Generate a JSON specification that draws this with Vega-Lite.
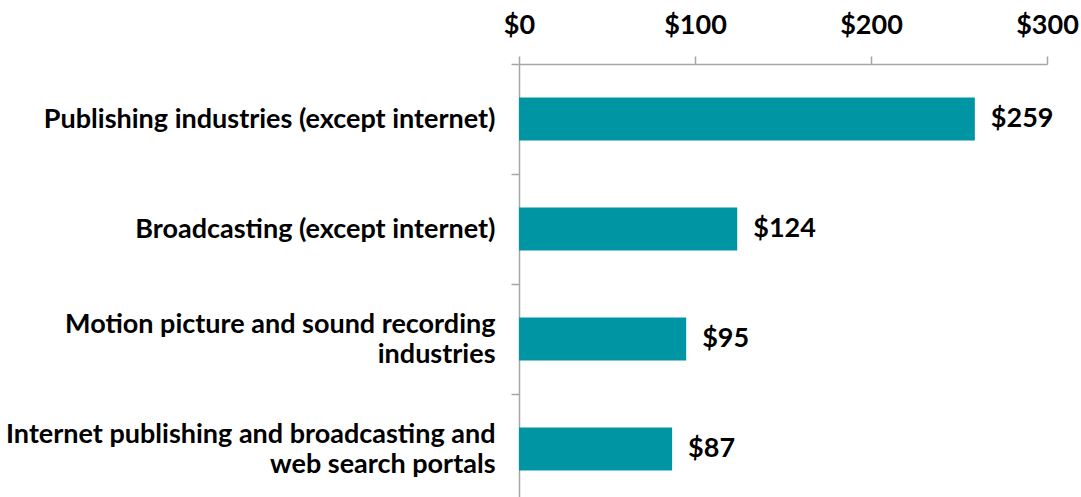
{
  "$schema": "https://vega.github.io/schema/vega-lite/v6.json",
  "autosize": "none",
  "width": 528,
  "height": 440,
  "padding": {"left": 519, "top": 64, "right": 34, "bottom": 0},
  "background": "white",
  "config": {"view": {"stroke": null}, "font": "Lato"},
  "data": {"values": [
    {"industry": "Publishing industries (except internet)", "value": 259},
    {"industry": "Broadcasting (except internet)", "value": 124},
    {"industry": "Motion picture and sound recording industries", "value": 95},
    {"industry": "Internet publishing and broadcasting and web search portals", "value": 87}
  ]},
  "encoding": {
    "y": {
      "field": "industry", "type": "nominal", "sort": null,
      "scale": {"paddingInner": 0, "paddingOuter": 0},
      "axis": {
        "title": null, "orient": "left", "tickBand": "extent",
        "domainColor": "#A6A6A6", "tickColor": "#A6A6A6", "tickSize": 8, "domainWidth": 1.5, "tickWidth": 1.5,
        "labelFont": "Lato", "labelFontWeight": "bold", "labelFontSize": 27, "labelColor": "#000000",
        "labelPadding": 16, "labelLimit": 700, "labelLineHeight": 30,
        "labelBaseline": {"condition": {"test": "length('' + datum.value) > 42", "value": "line-bottom"}, "value": "middle"},
        "labelExpr": "datum.label == 'Motion picture and sound recording industries' ? ['Motion picture and sound recording', 'industries'] : datum.label == 'Internet publishing and broadcasting and web search portals' ? ['Internet publishing and broadcasting and', 'web search portals'] : datum.label"
      }
    },
    "x": {
      "field": "value", "type": "quantitative",
      "scale": {"domain": [0, 300], "nice": false},
      "axis": {
        "title": null, "orient": "top", "values": [0, 100, 200, 300], "grid": false,
        "domainColor": "#A6A6A6", "tickColor": "#A6A6A6", "tickSize": 8, "domainWidth": 1.5, "tickWidth": 1.5,
        "labelFont": "Lato", "labelFontWeight": "bold", "labelFontSize": 27, "labelColor": "#000000",
        "labelPadding": 17, "labelExpr": "'$' + datum.value", "labelFlush": false
      }
    }
  },
  "layer": [
    {"mark": {"type": "bar", "color": "#0095A3", "height": 43}},
    {"mark": {"type": "text", "align": "left", "dx": 16, "font": "Lato", "fontWeight": "bold", "fontSize": 27, "color": "#000000"},
     "encoding": {"text": {"field": "value", "type": "quantitative", "format": "$d"}}}
  ]
}
